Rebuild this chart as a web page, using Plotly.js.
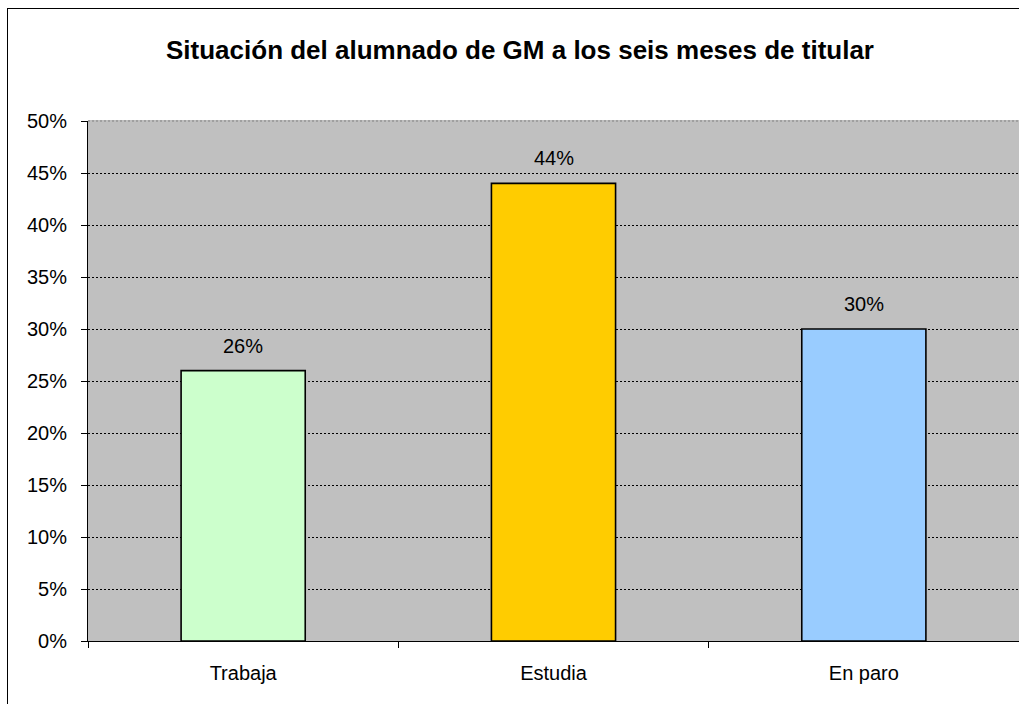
<!DOCTYPE html>
<html>
<head>
<meta charset="utf-8">
<script src="https://cdn.plot.ly/plotly-3.0.1.min.js"></script>
<style>
  html, body { margin: 0; padding: 0; width: 1019px; height: 704px; overflow: hidden; background: #fff; }
  #chart { position: absolute; left: 0; top: 0; width: 1019px; height: 704px; }
  #frame { position: absolute; left: 7px; top: 8px; width: 1012px; height: 696px; border-left: 1px solid #000; border-top: 1px solid #000; box-sizing: border-box; pointer-events: none; }
</style>
</head>
<body>
<div id="chart"></div>
<div id="frame"></div>
<script>
const categories = ['Trabaja', 'Estudia', 'En paro'];
const values = [0.26, 0.44, 0.30];
const barColors = ['#CCFFCC', '#FFCC00', '#99CCFF'];
const valueLabels = ['26%', '44%', '30%'];
const yTickVals = [0, 0.05, 0.10, 0.15, 0.20, 0.25, 0.30, 0.35, 0.40, 0.45, 0.50];
const yTickText = ['0%', '5%', '10%', '15%', '20%', '25%', '30%', '35%', '40%', '45%', '50%'];
const chartTitle = 'Situación del alumnado de GM a los seis meses de titular';

const FONT = 'Arial, "Liberation Sans", sans-serif';

const trace = {
  type: 'bar',
  x: categories,
  y: values,
  marker: { color: barColors, line: { color: '#000', width: 1.6 } },
  hoverinfo: 'skip'
};

const annotations = categories.map((c, i) => ({
  x: c, y: values[i], xref: 'x', yref: 'y',
  text: valueLabels[i], showarrow: false,
  yanchor: 'middle', yshift: 25,
  font: { family: FONT, size: 20, color: '#000' }
}));

const layout = {
  width: 1019, height: 704,
  margin: { l: 88, r: 0, t: 121, b: 63 },
  paper_bgcolor: 'rgba(0,0,0,0)',
  plot_bgcolor: '#C0C0C0',
  showlegend: false,
  bargap: 0.6,
  title: {
    text: '<b>' + chartTitle + '</b>',
    font: { family: FONT, size: 26, color: '#000' },
    xref: 'container', x: 520 / 1019, xanchor: 'center',
    yref: 'container', y: 1 - 50 / 704, yanchor: 'middle'
  },
  xaxis: {
    type: 'category',
    showline: true, linecolor: '#000', linewidth: 1,
    ticks: 'outside', tickson: 'boundaries', ticklen: 6, tickcolor: '#000', tickwidth: 1,
    showgrid: false, zeroline: false,
    tickfont: { family: FONT, size: 20, color: '#000' },
    ticklabelstandoff: 14,
    fixedrange: true
  },
  yaxis: {
    range: [0, 0.5],
    tickvals: yTickVals, ticktext: yTickText,
    showline: true, linecolor: '#000', linewidth: 1,
    ticks: 'outside', ticklen: 6, tickcolor: '#000', tickwidth: 1,
    showgrid: true, gridcolor: '#000', gridwidth: 1, griddash: '2px,2px',
    zeroline: false,
    tickfont: { family: FONT, size: 20, color: '#000' },
    ticklabelstandoff: 10,
    fixedrange: true
  },
  shapes: [
    { type: 'line', xref: 'paper', yref: 'paper', x0: 0, x1: 1, y0: 1, y1: 1,
      line: { color: '#C0C0C0', width: 2 }, layer: 'above' },
    { type: 'line', xref: 'paper', yref: 'paper', x0: 0, x1: 1, y0: 1, y1: 1,
      line: { color: '#808080', width: 1, dash: '2px,2px' }, layer: 'above' }
  ],
  annotations: annotations
};

Plotly.newPlot('chart', [trace], layout, { displayModeBar: false, staticPlot: true });
</script>
</body>
</html>
